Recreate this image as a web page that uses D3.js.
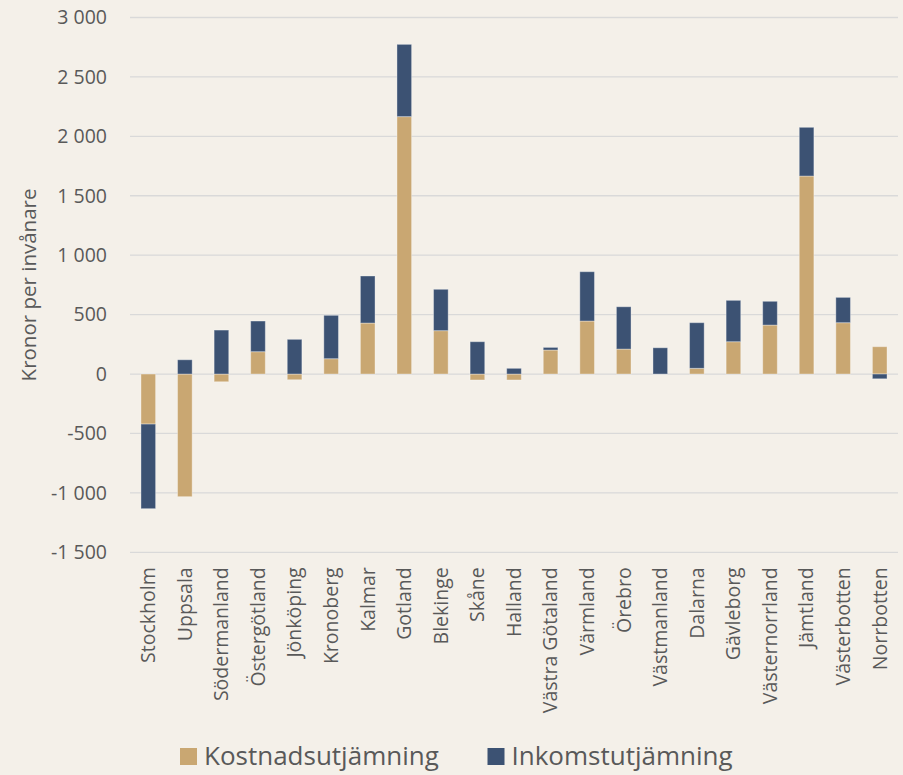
<!DOCTYPE html>
<html><head><meta charset="utf-8">
<script src="https://cdn.jsdelivr.net/npm/d3@7"></script>
<style>
html,body{margin:0;padding:0;background:#f4f0e9;}
svg{display:block;font-family:"Open Sans","Noto Sans",sans-serif;}
</style></head>
<body>
<svg id="chart" width="903" height="775"></svg>
<script>
const categories = ["Stockholm","Uppsala","Södermanland","Östergötland","Jönköping","Kronoberg","Kalmar","Gotland","Blekinge","Skåne","Halland","Västra Götaland","Värmland","Örebro","Västmanland","Dalarna","Gävleborg","Västernorrland","Jämtland","Västerbotten","Norrbotten"];
const kostnad = [-421,-1032,-65,188,-48,129,429,2166,365,-50,-50,202,446,210,0,48,272,412,1666,432,230];
const inkomst = [-712,120,370,258,292,365,396,608,348,272,48,22,415,356,221,384,348,200,410,213,-40];
const seriesNames = ["Kostnadsutjämning","Inkomstutjämning"];
const seriesColors = ["#c9a772","#3c5273"];
const yTicks = [-1500,-1000,-500,0,500,1000,1500,2000,2500,3000];

(function(){
const svg = d3.select("#chart");
const mLeft = 130, mRight = 898, mTop = 17.5, mBottom = 552.3;

const x = d3.scaleBand().domain(categories).range([mLeft,mRight]).paddingInner(0.6).paddingOuter(0.3);
const y = d3.scaleLinear().domain([-1500,3000]).range([mBottom,mTop]);

// gridlines
svg.append("g").selectAll("line").data(yTicks).join("line")
  .attr("x1",mLeft).attr("x2",mRight)
  .attr("y1",d=>y(d)).attr("y2",d=>y(d))
  .attr("stroke","#d9d9d9").attr("stroke-width",1.3);

// y labels
const yAxis = d3.axisLeft(y).tickValues(yTicks).tickSize(0).tickPadding(0)
  .tickFormat(d => d3.format(",")(d).replace(/,/g," ").replace("−","-"));
const gy = svg.append("g").attr("transform",`translate(107,0)`).call(yAxis);
gy.select(".domain").remove();
gy.selectAll("text").attr("fill","#595959").style("font-size","19.5px")
  .style("font-family","'Open Sans','Noto Sans',sans-serif");

// stacked bars
const table = categories.map((c,i)=>({cat:c, k:kostnad[i], n:inkomst[i]}));
const stack = d3.stack().keys(["k","n"]).offset(d3.stackOffsetDiverging);
const layers = stack(table);
svg.append("g").selectAll("g").data(layers).join("g")
  .attr("fill",(d,i)=>seriesColors[i])
  .selectAll("rect").data(d=>d).join("rect")
  .attr("x",d=>x(d.data.cat))
  .attr("width",x.bandwidth())
  .attr("y",d=>y(Math.max(d[0],d[1])))
  .attr("height",d=>Math.abs(y(d[0])-y(d[1])))
  .attr("stroke","#ffffff").attr("stroke-opacity",0.35).attr("stroke-width",1);

// x labels
const xAxis = d3.axisBottom(x).tickSize(0).tickPadding(0);
const gx = svg.append("g").attr("transform",`translate(0,${mBottom})`).call(xAxis);
gx.select(".domain").remove();
gx.selectAll("text")
  .attr("transform","rotate(-90)")
  .attr("x",-15).attr("y",0).attr("dy","0.35em")
  .attr("text-anchor","end")
  .attr("fill","#595959").style("font-size","19.5px")
  .style("font-family","'Open Sans','Noto Sans',sans-serif");

// y title
svg.append("text")
  .attr("transform","translate(36,285) rotate(-90)")
  .attr("text-anchor","middle")
  .attr("fill","#595959").style("font-size","20.5px")
  .text("Kronor per invånare");

// legend
const legX = [180,487.5];
const leg = svg.append("g").selectAll("g").data(seriesNames).join("g")
  .attr("transform",(d,i)=>`translate(${legX[i]},748)`);
leg.append("rect").attr("width",17).attr("height",17).attr("fill",(d,i)=>seriesColors[i]);
leg.append("text").attr("x",24).attr("y",17).attr("fill","#595959")
  .style("font-size","26px").text(d=>d);
})();
</script>
</body></html>
